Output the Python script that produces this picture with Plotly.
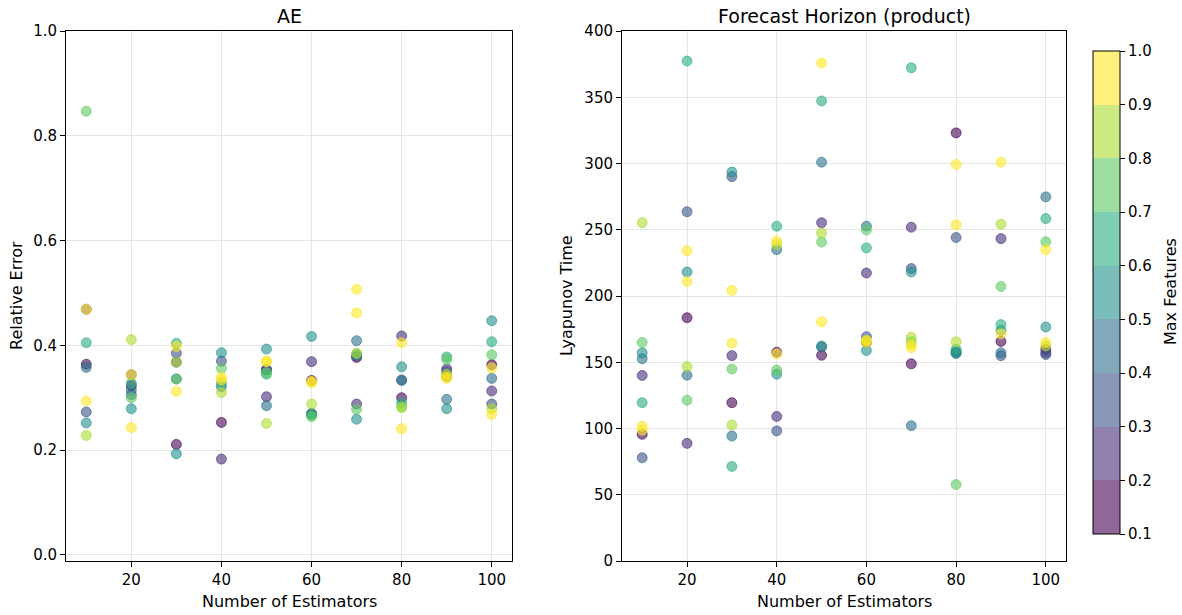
import plotly.graph_objects as go

# ---------------- data ----------------
n_estimators = [10, 20, 30, 40, 50, 60, 70, 80, 90, 100]
max_features = [0.1, 0.2, 0.3, 0.4, 0.5, 0.6, 0.7, 0.8, 0.9, 1.0]

# relative error (AE); one row per n_estimators, columns follow max_features
ae_relative_error = [
    [0.364, 0.469, 0.273, 0.358, 0.252, 0.405, 0.847, 0.228, 0.294, 0.469],
    [0.323, 0.344, 0.306, 0.315, 0.279, 0.328, 0.300, 0.411, 0.344, 0.243],
    [0.211, 0.368, 0.385, 0.336, 0.193, 0.404, 0.336, 0.368, 0.398, 0.312],
    [0.253, 0.183, 0.370, 0.321, 0.386, 0.328, 0.356, 0.310, 0.339, 0.334],
    [0.354, 0.302, 0.353, 0.285, 0.393, 0.345, 0.348, 0.251, 0.370, 0.369],
    [0.333, 0.369, 0.270, 0.269, 0.417, 0.267, 0.264, 0.288, 0.331, 0.329],
    [0.377, 0.288, 0.380, 0.409, 0.259, 0.383, 0.278, 0.385, 0.507, 0.462],
    [0.300, 0.418, 0.334, 0.333, 0.359, 0.290, 0.283, 0.281, 0.405, 0.241],
    [0.340, 0.355, 0.350, 0.297, 0.279, 0.378, 0.373, 0.345, 0.340, 0.337],
    [0.363, 0.313, 0.288, 0.337, 0.447, 0.407, 0.382, 0.279, 0.357, 0.268],
]

# forecast horizon (product) in Lyapunov times
horizon_lyapunov = [
    [95.6, 140.0, 77.9, 152.7, 157.1, 119.5, 164.9, 255.3, 101.8, 98.7],
    [183.6, 88.8, 263.6, 140.2, 218.1, 377.3, 121.3, 146.7, 234.2, 210.9],
    [119.5, 155.0, 290.1, 94.3, 293.5, 71.4, 144.9, 102.6, 204.1, 164.4],
    [157.6, 109.1, 98.2, 235.0, 141.0, 252.7, 144.1, 238.9, 241.5, 156.3],
    [155.3, 255.3, 161.5, 301.0, 162.3, 347.2, 240.7, 247.5, 375.8, 180.5],
    [165.0, 217.4, 169.3, 252.7, 158.9, 236.3, 249.8, 166.5, 166.2, 164.9],
    [148.8, 251.9, 220.7, 102.1, 218.1, 372.2, 165.5, 168.8, 163.1, 161.0],
    [323.1, 158.0, 244.1, 156.6, 157.1, 159.7, 57.7, 165.4, 299.2, 253.7],
    [165.7, 243.3, 155.0, 157.1, 174.0, 178.4, 207.2, 254.2, 171.4, 301.0],
    [159.7, 157.1, 155.8, 274.8, 176.6, 258.4, 241.0, 162.3, 235.0, 164.9],
]

ae_yticks = [0.0, 0.2, 0.4, 0.6, 0.8, 1.0]
horizon_yticks = [0, 50, 100, 150, 200, 250, 300, 350, 400]
x_ticks = [20, 40, 60, 80, 100]
cbar_ticks = [0.1, 0.2, 0.3, 0.4, 0.5, 0.6, 0.7, 0.8, 0.9, 1.0]

# ---------------- styling ----------------
viridis9 = [(68, 1, 84), (71, 45, 123), (59, 82, 139), (44, 114, 142), (33, 145, 140),
            (40, 174, 128), (94, 201, 98), (173, 220, 48), (253, 231, 37)]
alpha = 0.6
eps = 1e-6
colorscale = []
nb = len(viridis9)
for i, (r, g, b) in enumerate(viridis9):
    c = f"rgba({r},{g},{b},{alpha})"
    lo = 0.0 if i == 0 else i / nb - eps
    hi = 1.0 if i == nb - 1 else (i + 1) / nb - eps
    colorscale.append([lo, c])
    colorscale.append([hi, c])

W, H = 1182, 615
FONT = "DejaVu Sans"
TICK = 15
LABEL = 16
TITLE = 19


def flat(table):
    xs, ys, cs = [], [], []
    for i, n in enumerate(n_estimators):
        for j, mf in enumerate(max_features):
            xs.append(n)
            ys.append(table[i][j])
            cs.append(mf)
    return xs, ys, cs


ax_x, ax_y, ax_c = flat(ae_relative_error)
hz_x, hz_y, hz_c = flat(horizon_lyapunov)

marker_common = dict(size=10, colorscale=colorscale, cmin=0.1, cmax=1.0)

fig = go.Figure()
fig.add_trace(go.Scatter(
    x=ax_x, y=ax_y, mode="markers", xaxis="x", yaxis="y", showlegend=False,
    marker=dict(color=ax_c, showscale=False,
                line=dict(width=1, color=ax_c, colorscale=colorscale, cmin=0.1, cmax=1.0),
                **marker_common),
))
fig.add_trace(go.Scatter(
    x=hz_x, y=hz_y, mode="markers", xaxis="x2", yaxis="y2", showlegend=False,
    marker=dict(color=hz_c, showscale=True,
                line=dict(width=1, color=hz_c, colorscale=colorscale, cmin=0.1, cmax=1.0),
                colorbar=dict(
                    x=1093 / W, xanchor="left", y=1 - 292.5 / H, yanchor="middle",
                    len=483 / H, lenmode="fraction", thickness=27, xpad=0, ypad=0,
                    outlinecolor="black", outlinewidth=1,
                    tickvals=cbar_ticks, ticktext=[f"{v:.1f}" for v in cbar_ticks],
                    ticks="outside", ticklen=5, tickcolor="black",
                    tickfont=dict(family=FONT, size=TICK, color="black"),
                ),
                **marker_common),
))

ydom = [1 - 561 / H, 1 - 31 / H]
axis_common = dict(
    showline=True, linecolor="black", linewidth=1, mirror=True,
    ticks="outside", ticklen=5, tickcolor="black", tickwidth=1,
    showgrid=True, gridcolor="#e6e6e6", gridwidth=1, zeroline=False,
    automargin=False,
    tickfont=dict(family=FONT, size=TICK, color="black"),
)


def ann(text, x, y, size, angle=0, xanchor="center", yanchor="middle"):
    return dict(text=text, x=x / W, y=1 - y / H, xref="paper", yref="paper",
                xanchor=xanchor, yanchor=yanchor, showarrow=False, textangle=angle,
                font=dict(family=FONT, size=size, color="black"))


fig.update_layout(
    width=W, height=H, margin=dict(l=0, r=0, t=0, b=0, autoexpand=False),
    paper_bgcolor="white", plot_bgcolor="white",
    font=dict(family=FONT, size=TICK, color="black"),
    xaxis=dict(domain=[66 / W, 512 / W], range=[5.5, 104.5], tickvals=x_ticks,
               anchor="y", **axis_common),
    yaxis=dict(domain=ydom, range=[-0.0115, 1.0], tickvals=ae_yticks,
               ticktext=[f"{v:.1f}" for v in ae_yticks], anchor="x", **axis_common),
    xaxis2=dict(domain=[622 / W, 1066 / W], range=[5.5, 104.5], tickvals=x_ticks,
                anchor="y2", **axis_common),
    yaxis2=dict(domain=ydom, range=[0, 400], tickvals=horizon_yticks,
                anchor="x2", **axis_common),
    annotations=[
        ann("AE", 289, 16, TITLE),
        ann("Forecast Horizon (product)", 844, 16, TITLE),
        ann("Number of Estimators", 289, 601, LABEL),
        ann("Number of Estimators", 844, 601, LABEL),
        ann("Relative Error", 16, 296, LABEL, angle=-90),
        ann("Lyapunov Time", 566, 296, LABEL, angle=-90),
        ann("Max Features", 1170, 292, LABEL, angle=-90),
    ],
)

fig.write_html("out.html")
